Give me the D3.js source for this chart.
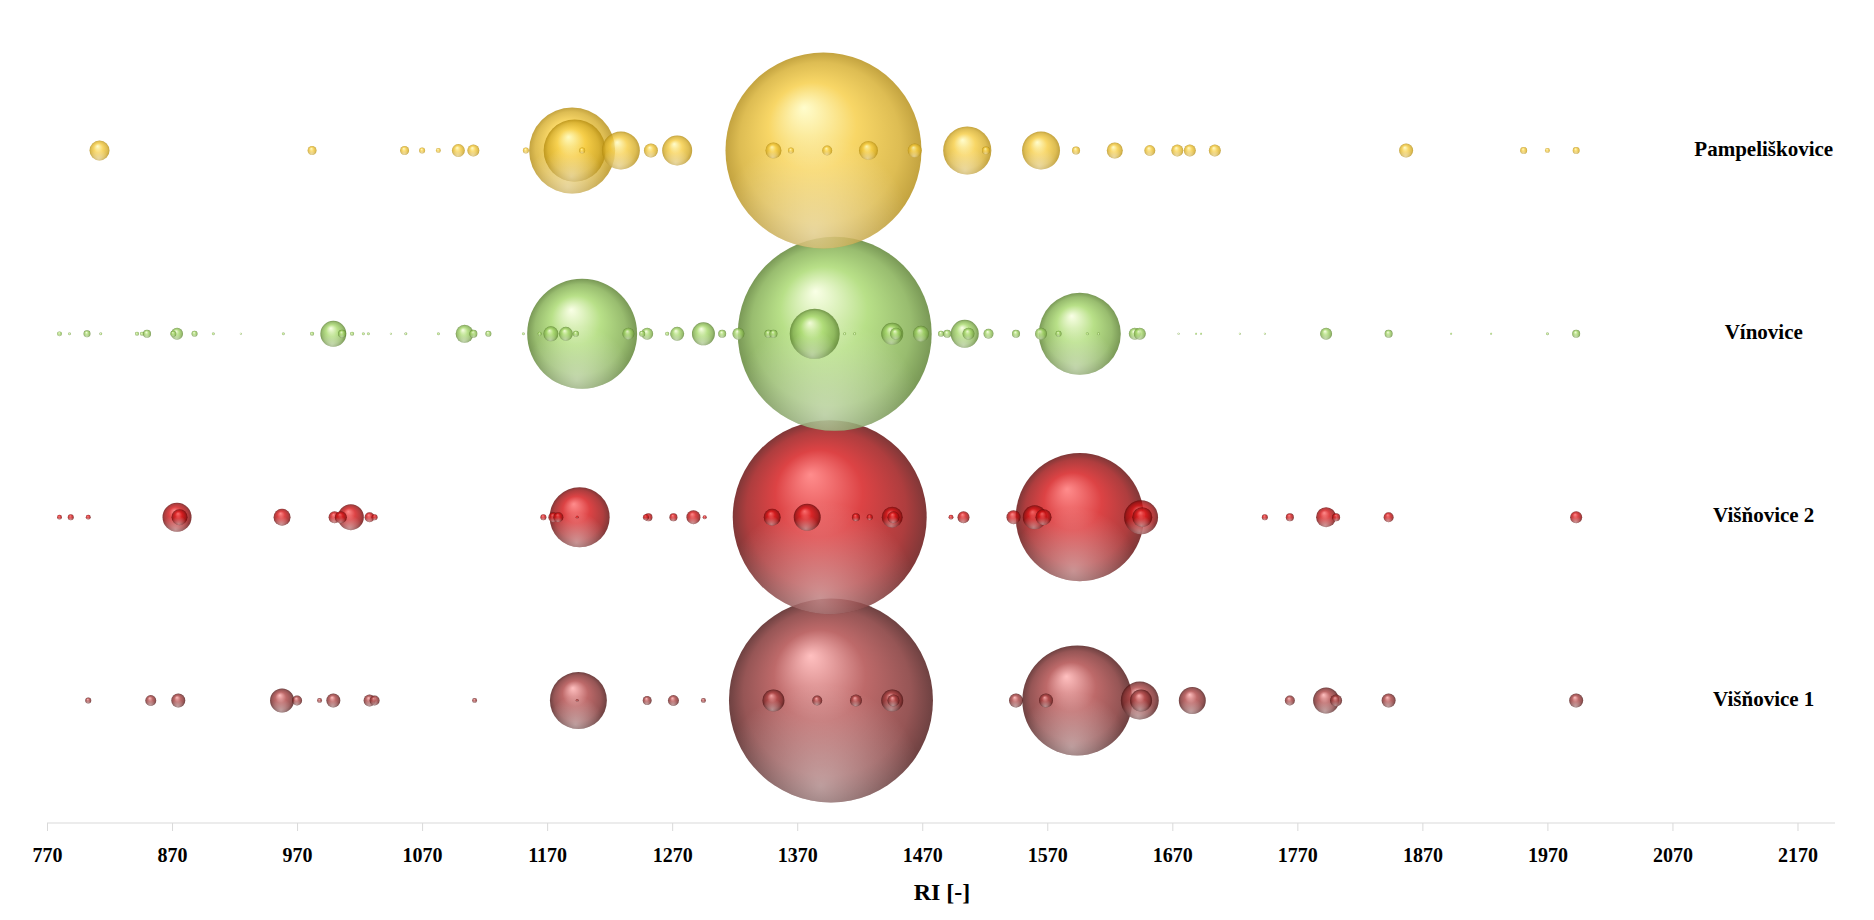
<!DOCTYPE html>
<html>
<head>
<meta charset="utf-8">
<script src="https://cdn.jsdelivr.net/npm/d3@7"></script>
<style>
  body { margin: 0; background: #fff; }
</style>
</head>
<body>
<script>
// rows (bottom to top)
var rowNames = ["Višňovice 1", "Višňovice 2", "Vínovice", "Pampeliškovice"];
var rowLevels = [1, 2, 3, 4];
var tickValues = [770, 870, 970, 1070, 1170, 1270, 1370, 1470, 1570, 1670, 1770, 1870, 1970, 2070, 2170];

// Višňovice 1
var vis1RI = [803, 853, 875, 958, 970, 988, 999, 1028, 1032, 1112, 1194, 1195, 1250, 1271, 1295, 1351, 1386, 1397, 1417, 1446, 1447, 1545, 1569, 1594, 1644, 1645, 1686, 1764, 1793, 1801, 1843, 1993];
var vis1Size = [0.09, 0.3, 0.49, 1.44, 0.25, 0.06, 0.49, 0.36, 0.25, 0.06, 0.02, 8.1, 0.2, 0.3, 0.06, 1.21, 0.25, 104, 0.36, 1.21, 0.36, 0.49, 0.49, 30.2, 3.6, 1.21, 1.82, 0.25, 1.69, 0.36, 0.49, 0.49];

// Višňovice 2
var vis2RI = [780, 789, 803, 874, 876, 958, 1000, 1005, 1013, 1028, 1032, 1167, 1175, 1179, 1194, 1196, 1249, 1251, 1271, 1287, 1296, 1350, 1378, 1396, 1417, 1428, 1446, 1447, 1493, 1503, 1543, 1560, 1567, 1596, 1645, 1646, 1744, 1764, 1793, 1801, 1843, 1993];
var vis2Size = [0.06, 0.09, 0.06, 2.1, 0.64, 0.72, 0.36, 0.36, 1.69, 0.25, 0.09, 0.09, 0.25, 0.25, 0.02, 9.0, 0.09, 0.16, 0.16, 0.49, 0.04, 0.72, 1.82, 94, 0.16, 0.09, 1.1, 0.36, 0.06, 0.36, 0.49, 1.44, 0.64, 41, 2.89, 1.0, 0.09, 0.16, 1.0, 0.16, 0.25, 0.36];

// Vínovice
var vinRI = [780, 788, 802, 813, 842, 846, 850, 871, 874, 888, 903, 925, 959, 982, 999, 1006, 1014, 1023, 1027, 1045, 1057, 1083, 1104, 1111, 1123, 1151, 1164, 1173, 1185, 1193, 1198, 1235, 1246, 1250, 1266, 1274, 1295, 1310, 1323, 1347, 1351, 1384, 1400, 1408, 1416, 1446, 1449, 1469, 1485, 1490, 1504, 1507, 1523, 1545, 1565, 1579, 1596, 1602, 1611, 1640, 1644, 1675, 1689, 1693, 1724, 1744, 1793, 1843, 1893, 1925, 1970, 1993];
var vinSize = [0.06, 0.02, 0.12, 0.02, 0.04, 0.04, 0.16, 0.09, 0.36, 0.09, 0.02, 0.01, 0.02, 0.04, 1.69, 0.16, 0.04, 0.02, 0.02, 0.01, 0.02, 0.02, 0.81, 0.16, 0.09, 0.02, 0.04, 0.56, 0.49, 0.09, 30.2, 0.36, 0.09, 0.36, 0.04, 0.49, 1.32, 0.16, 0.36, 0.16, 0.16, 6.25, 94, 0.02, 0.02, 1.21, 0.36, 0.64, 0.09, 0.16, 1.96, 0.36, 0.25, 0.16, 0.36, 0.09, 16.8, 0.02, 0.02, 0.36, 0.36, 0.01, 0.01, 0.01, 0.01, 0.01, 0.36, 0.16, 0.01, 0.01, 0.02, 0.16];

// Pampeliškovice
var pampRI = [812, 982, 1056, 1070, 1083, 1099, 1111, 1153, 1190, 1192, 1198, 1229, 1253, 1274, 1351, 1365, 1391, 1394, 1427, 1464, 1506, 1521, 1565, 1593, 1624, 1652, 1674, 1684, 1704, 1857, 1951, 1970, 1993];
var pampSize = [1.0, 0.2, 0.2, 0.09, 0.06, 0.42, 0.36, 0.09, 18.5, 9.6, 0.09, 3.6, 0.49, 2.25, 0.64, 0.09, 96, 0.25, 0.9, 0.49, 5.8, 0.16, 3.6, 0.16, 0.64, 0.3, 0.36, 0.36, 0.36, 0.49, 0.12, 0.06, 0.12];

// colours: highlight, base, dark
var palette = [
    ["#ffb0b0", "#ad4444", "#4a1212"],
    ["#ff7070", "#d41416", "#600606"],
    ["#f8ffe0", "#a6d86a", "#587f2c"],
    ["#fffcc0", "#f6cc40", "#b48c10"]
];

var series = [
    { name: rowNames[0], level: rowLevels[0], ri: vis1RI, size: vis1Size },
    { name: rowNames[1], level: rowLevels[1], ri: vis2RI, size: vis2Size },
    { name: rowNames[2], level: rowLevels[2], ri: vinRI, size: vinSize },
    { name: rowNames[3], level: rowLevels[3], ri: pampRI, size: pampSize }
];

var width = 1874, height = 920;

var svg = d3.select("body")
    .append("svg")
    .attr("width", width)
    .attr("height", height);

// SCALES
var x = d3.scaleLinear().domain([770, 2200]).range([47, 1835]);
var y = d3.scaleLinear().domain([1, 4]).range([700.5, 150.5]);
var r = d3.scaleSqrt().domain([0, 104]).range([0, 102]);

// gradients
var defs = svg.append("defs");
palette.forEach(function (c, i) {
    var g = defs.append("radialGradient")
        .attr("id", "grad" + i)
        .attr("cx", "0.5").attr("cy", "0.5").attr("r", "0.5")
        .attr("fx", "0.4").attr("fy", "0.28");
    g.append("stop").attr("offset", "0%").attr("stop-color", c[0]);
    g.append("stop").attr("offset", "45%").attr("stop-color", c[1]);
    g.append("stop").attr("offset", "82%").attr("stop-color", d3.interpolateRgb(c[1], c[2])(0.5));
    g.append("stop").attr("offset", "100%").attr("stop-color", c[2]);
});
var glow = defs.append("radialGradient")
    .attr("id", "glow")
    .attr("cx", "0.45").attr("cy", "0.92").attr("r", "0.5");
glow.append("stop").attr("offset", "0%").attr("stop-color", "#fff").attr("stop-opacity", 0.45);
glow.append("stop").attr("offset", "100%").attr("stop-color", "#fff").attr("stop-opacity", 0);

//---AXIS
var bottomAxis = d3.axisBottom(x)
    .tickValues(tickValues)
    .tickFormat(d3.format("d"))
    .tickSize(8)
    .tickPadding(6)
    .tickSizeOuter(0);
var axisG = svg.append("g")
    .attr("class", "bottom axis")
    .attr("transform", "translate(0, 823)")
    .call(bottomAxis);
axisG.select(".domain").attr("stroke", "#d9d9d9").attr("d", "M" + x(770) + ",0H" + x(2200));
axisG.selectAll(".tick line").attr("stroke", "#d9d9d9");
axisG.selectAll("text")
    .attr("font-family", "'Liberation Serif', 'Times New Roman', serif")
    .attr("font-weight", "bold")
    .attr("font-size", "20px")
    .attr("fill", "#000")
    .attr("y", 39)
    .attr("dy", 0);

// BUBBLES
series.forEach(function (s, i) {
    var pts = s.ri.map(function (v, j) { return { ri: v, size: s.size[j], level: s.level }; });
    pts.sort(function (a, b) { return b.size - a.size; });

    var g = svg.append("g").attr("class", "series");
    var nodes = g.selectAll("g").data(pts).enter().append("g");
    nodes.append("circle")
        .attr("cx", function (d) { return x(d.ri); })
        .attr("cy", function (d) { return y(d.level); })
        .attr("r", function (d) { return Math.max(r(d.size), 0.8); })
        .attr("fill", "url(#grad" + i + ")")
        .attr("fill-opacity", 0.8);
    nodes.append("circle")
        .attr("cx", function (d) { return x(d.ri); })
        .attr("cy", function (d) { return y(d.level); })
        .attr("r", function (d) { return Math.max(r(d.size), 0.8); })
        .attr("fill", "url(#glow)");
});

// row labels
svg.append("g").selectAll("text")
    .data(series)
    .enter()
    .append("text")
    .attr("x", x(2143))
    .attr("y", function (d) { return y(d.level) + 5; })
    .attr("text-anchor", "middle")
    .attr("font-family", "'Liberation Serif', 'Times New Roman', serif")
    .attr("font-weight", "bold")
    .attr("font-size", "21px")
    .text(function (d) { return d.name; });

// x label
svg.append("text")
    .attr("x", 942)
    .attr("y", 900)
    .attr("text-anchor", "middle")
    .attr("font-family", "'Liberation Serif', 'Times New Roman', serif")
    .attr("font-weight", "bold")
    .attr("font-size", "24px")
    .text("RI [-]");
</script>
</body>
</html>
